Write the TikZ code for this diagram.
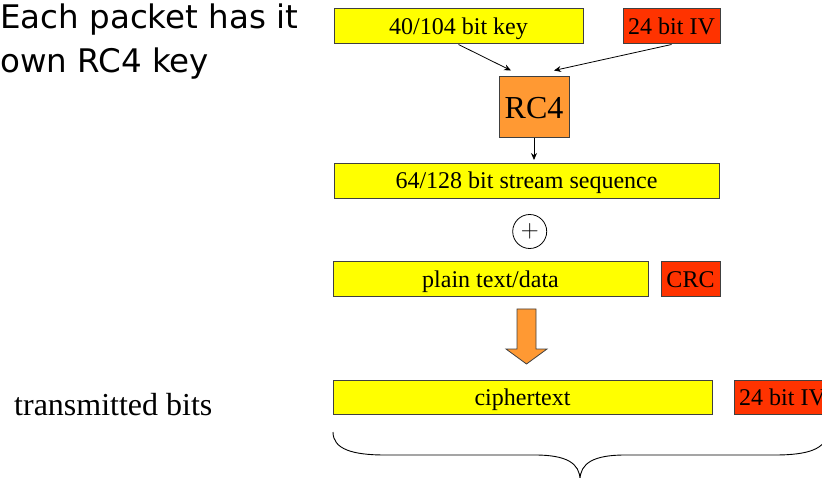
\documentclass[tikz,border=0pt]{standalone}
\usepackage{fontspec}
\setmainfont{Liberation Serif}
\newfontfamily\titlefont{DejaVu Sans}
\usetikzlibrary{arrows.meta}

\definecolor{keyyellow}{HTML}{FFFF00}
\definecolor{ivred}{HTML}{FF3300}
\definecolor{rcorange}{HTML}{FF9933}
\definecolor{boxline}{HTML}{404040}

\begin{document}
\begin{tikzpicture}
      [
        x = 1pt, y = -1pt,
        bitbox/.style = {draw = boxline, line width = 1pt, fill = keyyellow, inner sep = 0pt,
            minimum height = 35pt, text height = 16pt, text depth = 0pt,
            font = \fontsize{24}{28}\selectfont},
        ivbox/.style = {bitbox, fill = ivred},
        cipherbox/.style = {bitbox, fill = rcorange, minimum height = 61pt, text height = 22pt,
            font = \fontsize{32}{36}\selectfont},
        flow/.style = {-{Stealth[length = 7pt, width = 6pt]}, line width = 0.8pt},
      ]

      \useasboundingbox (0,0) rectangle (822,478);
      \clip (0,0) rectangle (822,478);

      \node[anchor=north west, inner sep=0pt, align=left, font=\titlefont\fontsize{32.5}{44}\selectfont]
        (title) at (0,4) {Each packet has it\\own RC4 key};

      \node[bitbox, minimum width = 249pt] (key) at (458.5,26.5) {40/104 bit key};
      \node[ivbox, minimum width = 97pt] (iv) at (671.5,26.5) {24 bit IV};
      \node[cipherbox, minimum width = 70pt] (rc4) at (534,107.5) {RC4};
      \node[bitbox, minimum width = 385pt] (stream) at (526.5,181) {64/128 bit stream sequence};
      \node[draw, circle, line width = 0.8pt, minimum size = 34pt, inner sep = 0pt,
        font = \fontsize{24}{28}\selectfont] (xor) at (529.7,231.5) {$+$};
      \node[bitbox, minimum width = 315pt] (plain) at (490.5,279.5) {plain text/data};
      \node[ivbox, minimum width = 59pt] (crc) at (690.5,279.5) {CRC};
      \node[bitbox, minimum width = 379pt, minimum height = 34pt] (cipher) at (522.5,397) {ciphertext};
      \node[ivbox, minimum width = 97pt, minimum height = 34pt] (iv2) at (782.5,397) {24 bit IV};

      \node[anchor=base west, inner sep=0pt, font=\fontsize{32}{36}\selectfont] (sent) at (14,415) {transmitted bits};

      \draw[flow] (key.south) -- ([xshift=-23pt, yshift=6pt]rc4.north);
      \draw[flow] (iv.south) -- ([xshift=20pt, yshift=6pt]rc4.north);
      \draw[flow] (rc4.south) -- ([yshift=3pt]rc4.south |- stream.north);

      \draw[draw = boxline, line width = 0.8pt, fill = rcorange]
        (517,309) -- (536,309) -- (536,349) -- (547,349) -- (526.5,364)
        -- (506,349) -- (517,349) -- cycle;

      \draw[line width = 0.9pt]
        (333,432) .. controls (333,449) and (352,455) .. (385,455) -- (535,455)
        .. controls (566,455) and (580,463) .. (580,480)
        (580,480) .. controls (580,463) and (594,455) .. (625,455) -- (775,455)
        .. controls (808,455) and (827,449) .. (827,432);
    \end{tikzpicture}
\end{document}
